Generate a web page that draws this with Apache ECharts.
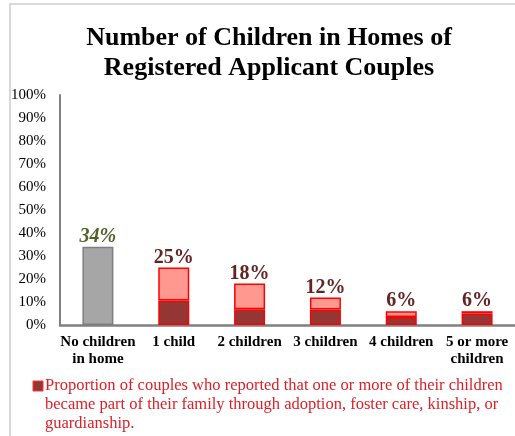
<!DOCTYPE html>
<html>
<head>
<meta charset="utf-8">
<script src="https://cdn.jsdelivr.net/npm/echarts@6/dist/echarts.min.js"></script>
<style>
  html, body { margin: 0; padding: 0; background: #fff; }
  #main { width: 515px; height: 436px; }
</style>
</head>
<body>
<div id="main"></div>
<script>
const categories = ['No children\nin home', '1 child', '2 children', '3 children', '4 children', '5 or more\nchildren'];
const totals = [34, 25, 18, 12, 6, 6];
const adopted = [0, 10.6, 6.8, 6.7, 3.5, 5];
const yTicks = [0, 10, 20, 30, 40, 50, 60, 70, 80, 90, 100];
const legendText = 'Proportion of couples who reported that one or more of their children\nbecame part of their family through adoption, foster care, kinship, or\nguardianship.';

const serif = '"Liberation Serif", "Times New Roman", serif';
const chart = echarts.init(document.getElementById('main'));

// adopted part at the bottom; no bar drawn for the first category
const low = adopted.map((v, i) => (i === 0 ? { value: v, itemStyle: { borderWidth: 0 } } : v));

// remainder on top of the adopted part; first bar is the plain gray one
const rest = totals.map((t, i) => {
  const item = { value: +(t - adopted[i]).toFixed(1) };
  if (i === 0) {
    item.itemStyle = { color: '#A6A6A6', borderColor: '#7F7F7F' };
    item.label = { color: '#4F6228', fontStyle: 'italic' };
  }
  return item;
});

chart.setOption({
  animation: false,
  graphic: [
    {
      type: 'rect',
      shape: { x: 10, y: 4, width: 530, height: 450 },
      style: { fill: 'none', stroke: '#D9D9D9', lineWidth: 2 },
      silent: true,
    },
    {
      type: 'rect',
      shape: { x: 33, y: 381, width: 10, height: 10 },
      style: { fill: '#943634', stroke: '#FF3333', lineWidth: 1 },
    },
    {
      type: 'text',
      x: 45,
      y: 376,
      style: {
        text: legendText,
        fill: '#DC1F26',
        font: '16.5px ' + serif,
        lineHeight: 19,
      },
    },
  ],
  title: {
    text: 'Number of Children in Homes of\nRegistered Applicant Couples',
    left: 264,
    textAlign: 'center',
    top: 18,
    textStyle: {
      fontFamily: serif,
      fontWeight: 'bold',
      fontSize: 26,
      lineHeight: 30,
      color: '#000',
    },
  },
  grid: { left: 60, right: -7, top: 95, bottom: 111 },
  xAxis: {
    type: 'category',
    data: categories,
    axisLine: { lineStyle: { color: '#808080', width: 2.5 } },
    axisTick: { show: false },
    axisLabel: {
      interval: 0,
      fontFamily: serif,
      fontWeight: 'bold',
      fontSize: 15,
      lineHeight: 17,
      color: '#000',
      margin: 9,
    },
  },
  yAxis: {
    type: 'value',
    min: yTicks[0],
    max: yTicks[yTicks.length - 1],
    interval: 10,
    splitLine: { show: false },
    axisLine: { show: true, lineStyle: { color: '#808080', width: 2 } },
    axisTick: { show: false },
    axisLabel: {
      formatter: '{value}%',
      fontFamily: serif,
      fontSize: 15,
      color: '#000',
      margin: 14,
    },
  },
  series: [
    {
      name: 'adopted',
      type: 'bar',
      stack: 'all',
      barWidth: 31,
      data: low,
      itemStyle: { color: '#943634', borderColor: '#FF0000', borderWidth: 1.5 },
    },
    {
      name: 'rest',
      type: 'bar',
      stack: 'all',
      barWidth: 31,
      data: rest,
      itemStyle: { color: '#FF9990', borderColor: '#FF0000', borderWidth: 1.5 },
      label: {
        show: true,
        position: 'top',
        distance: 0,
        formatter: (p) => totals[p.dataIndex] + '%',
        fontFamily: serif,
        fontWeight: 'bold',
        fontSize: 20,
        color: '#632523',
      },
    },
  ],
});
</script>
</body>
</html>
